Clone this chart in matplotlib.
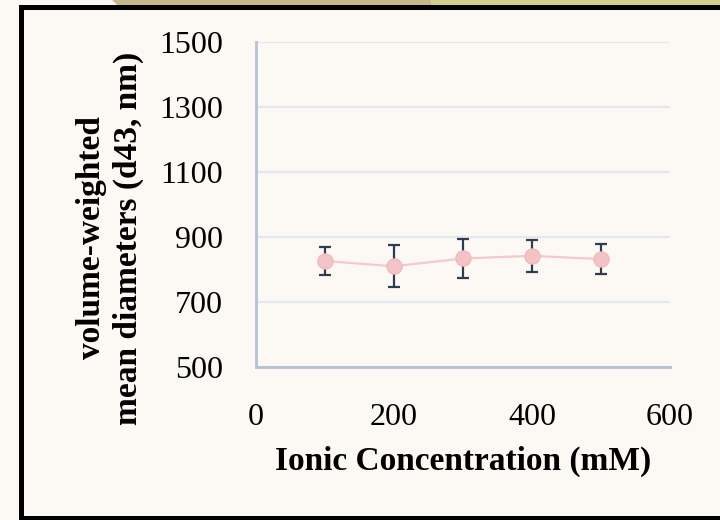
import matplotlib
matplotlib.use("Agg")
import matplotlib.pyplot as plt
from matplotlib.patches import Rectangle, Polygon

# data
concentration = [100, 200, 300, 400, 500]
d43_mean = [826, 810, 834, 842, 832]
d43_err = [44, 65, 60, 50, 45]

x_ticks = [0, 200, 400, 600]
y_ticks = [500, 700, 900, 1100, 1300, 1500]

plt.rcParams['font.family'] = ['Liberation Serif', 'DejaVu Serif']

bg = "#FCF9F5"
fig = plt.figure(figsize=(7.2, 5.2), dpi=100, facecolor=bg)

# decorative band along the top edge and the black frame
W, H = 720.0, 520.0
fig.patches.append(Polygon([(112 / W, 1.0), (431 / W, 1.0), (431 / W, 1 - 6 / H), (118 / W, 1 - 6 / H)],
                           closed=True, transform=fig.transFigure, facecolor="#C8B98A",
                           edgecolor="none", zorder=0))
fig.patches.append(Rectangle((431 / W, 1 - 6 / H), 1 - 431 / W, 6 / H, transform=fig.transFigure,
                             facecolor="#CFCF8F", edgecolor="none", zorder=0))
fig.patches.append(Rectangle((20.5 / W, 1 - 517.5 / H), 1.0, 511 / H, transform=fig.transFigure,
                             facecolor=bg, edgecolor="black", linewidth=3.6, zorder=1))

ax = fig.add_axes([256 / W, 1 - 367 / H, 414 / W, 325 / H])
ax.set_facecolor("none")
ax.set_zorder(2)

ax.plot(concentration, d43_mean, color="#F5C9C9", linewidth=1.6, zorder=3)
ax.errorbar(concentration, d43_mean, yerr=d43_err, fmt="none", ecolor="#2F3B4F",
            elinewidth=1.6, capsize=4.2, capthick=1.6, zorder=4)
ax.plot(concentration, d43_mean, linestyle="none", marker="o", markersize=11,
        markerfacecolor="#F3C3C5", markeredgecolor="#EEB8BA", markeredgewidth=0.8, zorder=5)

ax.set_xlim(0, 600)
ax.set_ylim(500, 1500)
ax.set_xticks(x_ticks)
ax.set_yticks(y_ticks)
ax.grid(axis="y", color="#E3E7EF", linewidth=1.6)
ax.set_axisbelow(True)

for side in ["top", "right"]:
    ax.spines[side].set_visible(False)
for side in ["left", "bottom"]:
    ax.spines[side].set_color("#B5C1D5")
    ax.spines[side].set_linewidth(2)

ax.tick_params(axis="both", length=0, labelsize=23, colors="black")
ax.tick_params(axis="y", pad=24)
ax.tick_params(axis="x", pad=26)

ax.set_xlabel("Ionic Concentration (mM)", fontsize=24, fontweight="bold", labelpad=10)
fig.text(110 / W, 1 - 238 / H, "volume-weighted\nmean diameters (d43, nm)", rotation=90,
         ha="center", va="center", multialignment="center", fontsize=24,
         fontweight="bold", linespacing=1.2)

fig.savefig("out.png", dpi=100, facecolor=bg)
